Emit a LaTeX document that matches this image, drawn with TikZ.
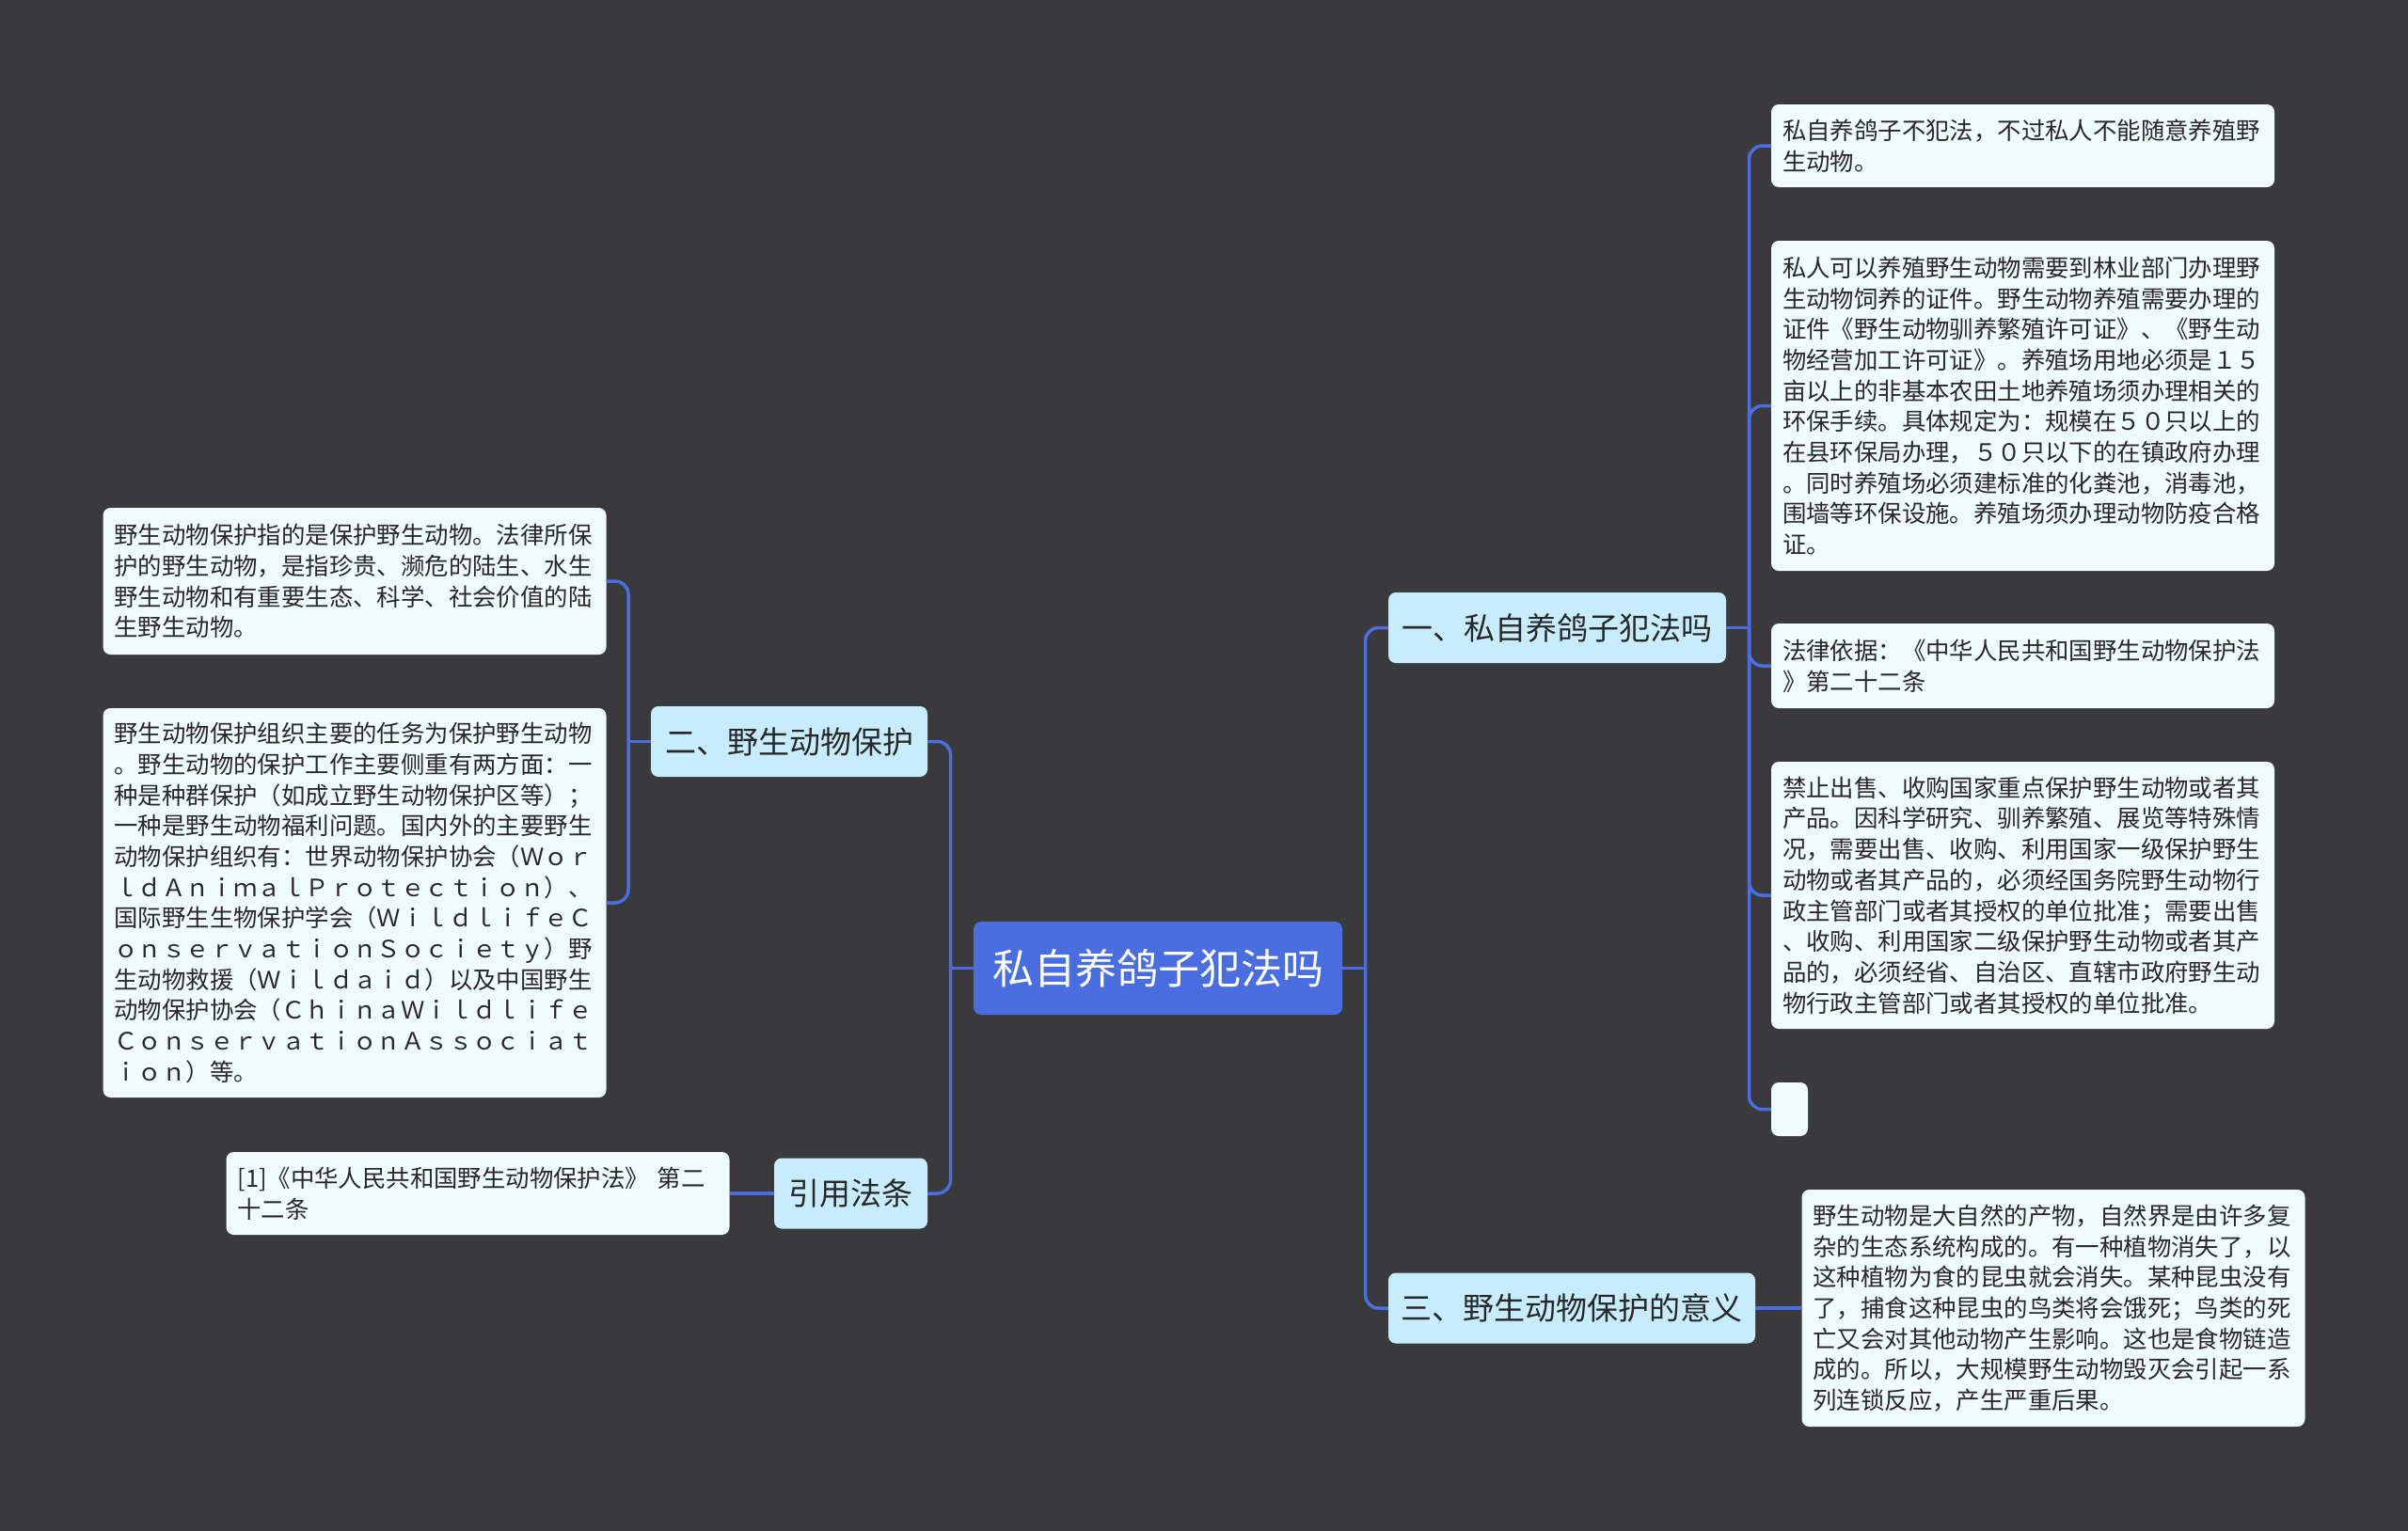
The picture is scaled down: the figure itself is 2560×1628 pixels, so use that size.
\documentclass[tikz,border=0pt]{standalone}
\usepackage{fontspec}
\setmainfont{Noto Sans CJK SC}
\definecolor{bgcol}{RGB}{58,57,59}
\definecolor{rootcol}{RGB}{74,110,224}
\definecolor{midcol}{RGB}{199,237,252}
\definecolor{leafcol}{RGB}{240,251,253}
\definecolor{txtcol}{RGB}{40,40,40}
\definecolor{linecol}{RGB}{74,110,224}
\newcommand{\leaffont}{\fontsize{25.4}{32.7}\selectfont}
\newcommand{\midfont}{\fontsize{33}{40}\selectfont}
\newcommand{\rootfont}{\fontsize{44}{50}\selectfont}
\begin{document}
\begin{tikzpicture}[x=1pt,y=-1pt,
  rootbox/.style={fill=rootcol, rounded corners=8pt, text=white, font=\rootfont, inner sep=0pt, minimum width=392pt, minimum height=99pt},
  midbox/.style={fill=midcol, rounded corners=8pt, text=txtcol, font=\midfont, inner sep=0pt, minimum height=75pt},
  leafbox/.style={fill=leafcol, rounded corners=8pt, text=txtcol, font=\leaffont, inner xsep=12pt, inner ysep=0pt, text width=511pt, align=left},
  emptybox/.style={fill=leafcol, rounded corners=8pt, inner sep=0pt, minimum width=39pt, minimum height=57pt},
  conn/.style={draw=linecol, line width=3.5pt},
  branch/.style={conn, rounded corners=14pt}
]
\fill[bgcol] (0,0) rectangle (2560,1628);
\useasboundingbox (0,0) rectangle (2560,1628);

% root
\node[rootbox] (root) at (1231,1029.5) {私自养鸽子犯法吗};

% level one
\node[midbox, minimum width=359pt] (n1) at (1655.5,667.5) {一、私自养鸽子犯法吗};
\node[midbox, minimum width=390pt] (n3) at (1671,1391) {三、野生动物保护的意义};
\node[midbox, minimum width=294pt] (n2) at (839,788.5) {二、野生动物保护};
\node[midbox, minimum width=163pt] (n4) at (904.5,1269) {引用法条};

% right leaves
\node[leafbox, minimum height=88pt] (r1) at (2150.5,155) {私自养鸽子不犯法，不过私人不能随意养殖野\\生动物。};
\node[leafbox, minimum height=351pt] (r2) at (2150.5,431.5) {私人可以养殖野生动物需要到林业部门办理野\\生动物饲养的证件。野生动物养殖需要办理的\\证件《野生动物驯养繁殖许可证》、《野生动\\物经营加工许可证》。养殖场用地必须是１５\\亩以上的非基本农田土地养殖场须办理相关的\\环保手续。具体规定为：规模在５０只以上的\\在县环保局办理，５０只以下的在镇政府办理\\。同时养殖场必须建标准的化粪池，消毒池，\\围墙等环保设施。养殖场须办理动物防疫合格\\证。};
\node[leafbox, minimum height=90pt] (r3) at (2150.5,708) {法律依据：《中华人民共和国野生动物保护法\\》第二十二条};
\node[leafbox, minimum height=284pt] (r4) at (2150.5,952) {禁止出售、收购国家重点保护野生动物或者其\\产品。因科学研究、驯养繁殖、展览等特殊情\\况，需要出售、收购、利用国家一级保护野生\\动物或者其产品的，必须经国务院野生动物行\\政主管部门或者其授权的单位批准；需要出售\\、收购、利用国家二级保护野生动物或者其产\\品的，必须经省、自治区、直辖市政府野生动\\物行政主管部门或者其授权的单位批准。};
\node[emptybox] (r5) at (1902.5,1179.5) {};
\node[leafbox, minimum height=252pt] (r6) at (2183,1391) {野生动物是大自然的产物，自然界是由许多复\\杂的生态系统构成的。有一种植物消失了，以\\这种植物为食的昆虫就会消失。某种昆虫没有\\了，捕食这种昆虫的鸟类将会饿死；鸟类的死\\亡又会对其他动物产生影响。这也是食物链造\\成的。所以，大规模野生动物毁灭会引起一系\\列连锁反应，产生严重后果。};

% left leaves
\node[leafbox, minimum height=156pt] (l1) at (377,618) {野生动物保护指的是保护野生动物。法律所保\\护的野生动物，是指珍贵、濒危的陆生、水生\\野生动物和有重要生态、科学、社会价值的陆\\生野生动物。};
\node[leafbox, minimum height=414pt] (l2) at (377,960) {野生动物保护组织主要的任务为保护野生动物\\。野生动物的保护工作主要侧重有两方面：一\\种是种群保护（如成立野生动物保护区等）；\\一种是野生动物福利问题。国内外的主要野生\\动物保护组织有：世界动物保护协会（Ｗｏｒ\\ｌｄＡｎｉｍａｌＰｒｏｔｅｃｔｉｏｎ）、\\国际野生生物保护学会（ＷｉｌｄｌｉｆｅＣ\\ｏｎｓｅｒｖａｔｉｏｎＳｏｃｉｅｔｙ）野\\生动物救援（Ｗｉｌｄａｉｄ）以及中国野生\\动物保护协会（ＣｈｉｎａＷｉｌｄｌｉｆｅ\\ＣｏｎｓｅｒｖａｔｉｏｎＡｓｓｏｃｉａｔ\\ｉｏｎ）等。};
\node[leafbox, minimum height=88pt] (l3) at (508,1269) {[1]《中华人民共和国野生动物保护法》 第二\\十二条};

% junctions
\coordinate (jR) at (1451.5,1029.5);
\coordinate (jL) at (1010.5,1029.5);
\coordinate (j1) at (1859.5,667.5);
\coordinate (j2) at (668,788.5);

% connectors
\draw[conn] (root.east) -- (jR);
\draw[branch] (jR) |- (n1.west);
\draw[branch] (jR) |- (n3.west);
\draw[conn] (root.west) -- (jL);
\draw[branch] (jL) |- (n2.east);
\draw[branch] (jL) |- (n4.east);

\draw[conn] (n1.east) -- (j1);
\draw[branch] (j1) |- (r1.west);
\draw[branch] (j1) |- (r2.west);
\draw[branch] (j1) |- (r3.west);
\draw[branch] (j1) |- (r4.west);
\draw[branch] (j1) |- (r5.west);

\draw[conn] (n3.east) -- (r6.west);

\draw[conn] (n2.west) -- (j2);
\draw[branch] (j2) |- (l1.east);
\draw[branch] (j2) |- (l2.east);

\draw[conn] (n4.west) -- (l3.east);
\end{tikzpicture}
\end{document}
